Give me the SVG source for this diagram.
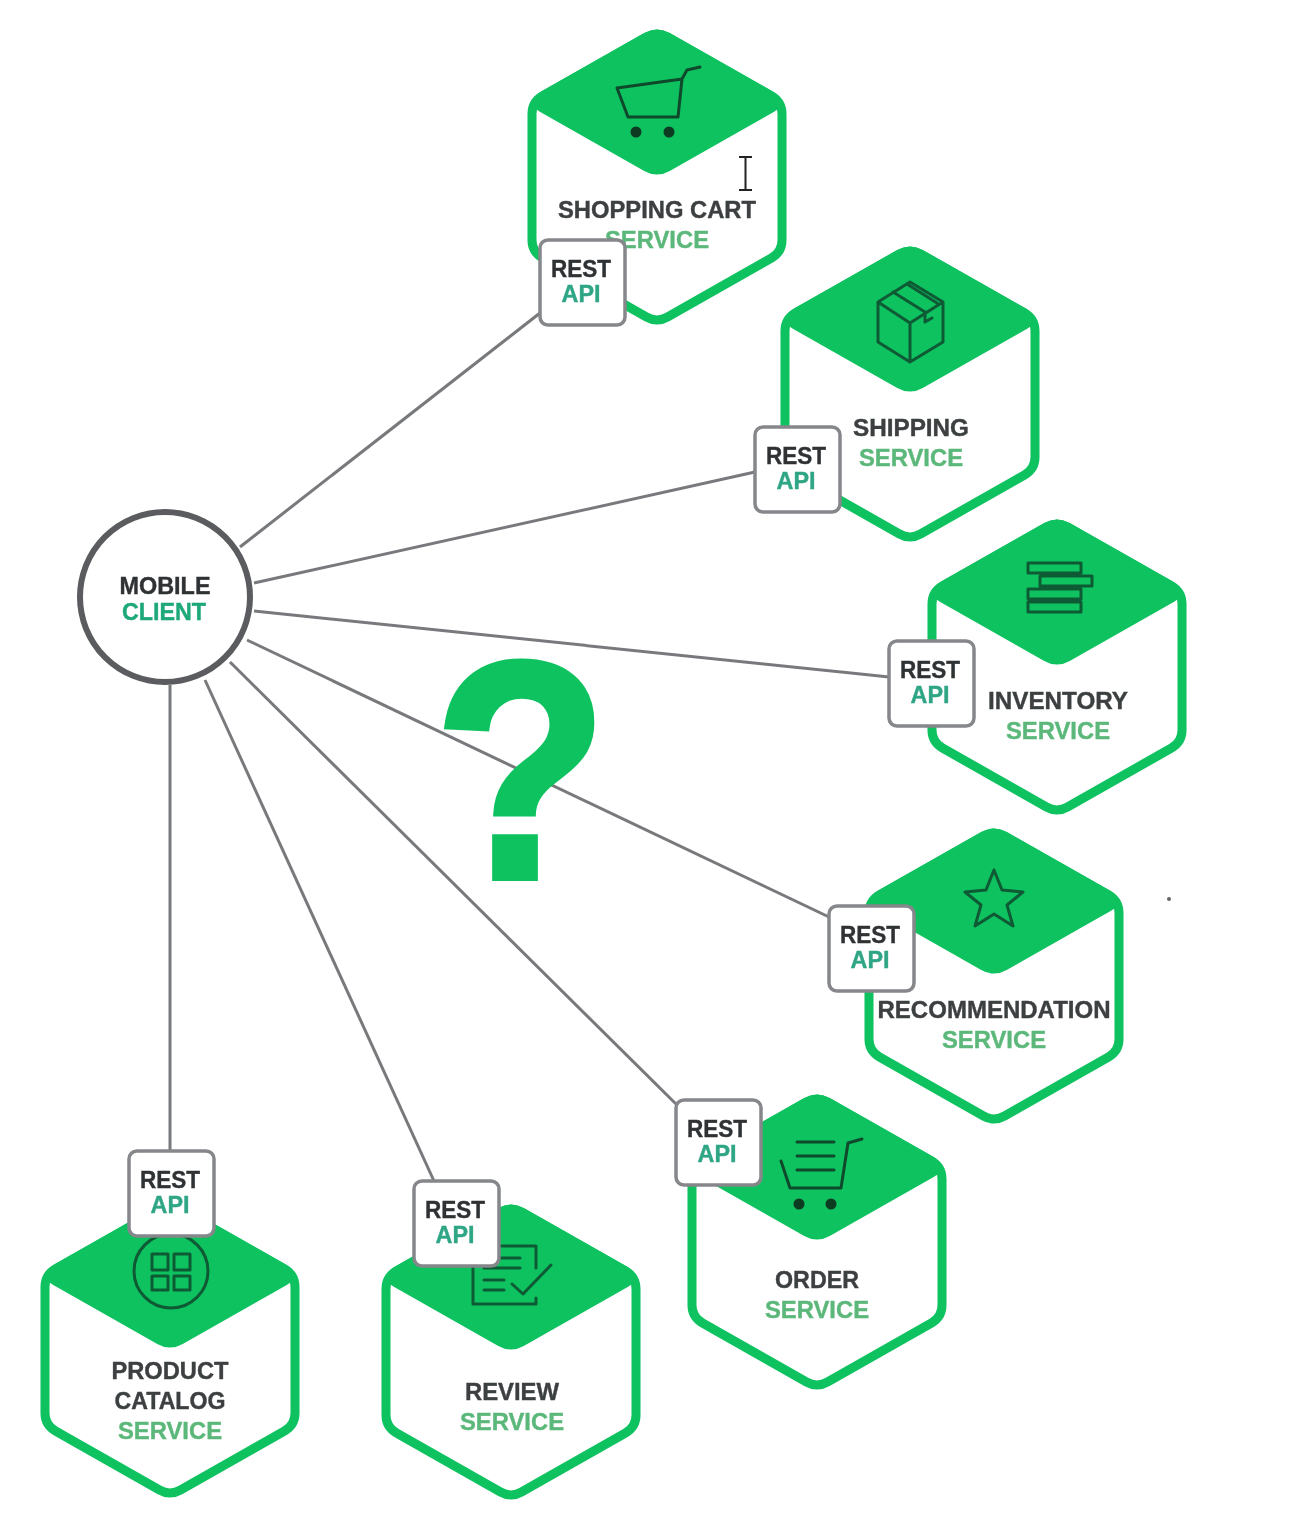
<svg xmlns="http://www.w3.org/2000/svg" width="1300" height="1516" viewBox="0 0 1300 1516">
<style>
text{font-family:"Liberation Sans",Arial,sans-serif;font-weight:700;text-anchor:middle}
.n{font-size:24px;fill:#3c3f41;stroke:#3c3f41;stroke-width:.4}
.s{font-size:24px;fill:#5cb87a;stroke:#5cb87a;stroke-width:.4}
.r{font-size:24px;fill:#2f3234;stroke:#2f3234;stroke-width:.4}
.a{font-size:24px;fill:#2fa585;stroke:#2fa585;stroke-width:.4}
.shell{fill:#fff;stroke:#0cc25f;stroke-width:9;stroke-linejoin:round}
.cap{fill:#0cc25f;stroke:#0cc25f;stroke-width:9;stroke-linejoin:round}
.api{fill:#fff;stroke:#85878a;stroke-width:3.5}
.ic{fill:none;stroke:#0b5a35;stroke-width:3;stroke-linejoin:round;stroke-linecap:round}
.wh{fill:#0a3a24}
.c{stroke:#77797b;stroke-width:3;fill:none}
.q{font-size:310px;fill:#0cc25f;stroke:#0cc25f;stroke-width:6;stroke-linejoin:miter}
</style>
<defs>
<filter id="soft" x="-5%" y="-5%" width="110%" height="110%"><feGaussianBlur stdDeviation="0.55"/></filter>
<g id="hex">
<path class="shell" d="M-10.500-140Q0-146 10.500-140L114.500-81Q125-75 125-63V63Q125 75 114.500 81L10.500 140Q0 146-10.500 140L-114.500 81Q-125 75-125 63V-63Q-125-75-114.500-81Z"/>
<path class="cap" d="M-10.500-140Q0-146 10.500-140L114.500-81Q125-75 114.500-69L10.500-10Q0-4-10.500-10L-114.500-69Q-125-75-114.500-81Z"/>
</g>
<g id="rest">
<rect class="api" width="85" height="85" rx="8"/>
<text class="r" x="41" y="37" textLength="60" lengthAdjust="spacingAndGlyphs">REST</text>
<text class="a" x="41" y="62" textLength="39" lengthAdjust="spacingAndGlyphs">API</text>
</g>
</defs>
<rect width="1300" height="1516" fill="#fff"/>
<g filter="url(#soft)">
<g id="connectors">
<path class="c" d="M240 547L540 313"/>
<path class="c" d="M254 583L755 472"/>
<path class="c" d="M254 611L889 677"/>
<path class="c" d="M247 640L829 917"/>
<path class="c" d="M230 662L676 1104"/>
<path class="c" d="M205 680L434 1181"/>
<path class="c" d="M170 685V1151"/>
</g>
<g id="question"><text class="q" x="521" y="878" textLength="174" lengthAdjust="spacingAndGlyphs">?</text></g>
<g id="mobile-client">
<circle cx="165" cy="597" r="85" fill="#fff" stroke="#5a5c5e" stroke-width="6"/>
<text class="r" x="165" y="594" textLength="91" lengthAdjust="spacingAndGlyphs">MOBILE</text>
<text class="a" x="164" y="620" textLength="84" lengthAdjust="spacingAndGlyphs" style="fill:#1fa878;stroke:#1fa878">CLIENT</text>
</g>
<g id="shopping-cart">
<use href="#hex" x="657" y="177"/>
<path class="ic" style="stroke:#0a4a2c" d="M617 88L682 79L678 117H628ZM682 79L687 70L700 67"/>
<circle class="wh" cx="636" cy="132" r="5.500"/><circle class="wh" cx="669" cy="132" r="5.500"/>
<text class="n" x="657" y="218" textLength="198" lengthAdjust="spacingAndGlyphs">SHOPPING CART</text>
<text class="s" x="657" y="248" textLength="104" lengthAdjust="spacingAndGlyphs">SERVICE</text>
<use href="#rest" x="540" y="240"/>
</g>
<g id="shipping">
<use href="#hex" x="910" y="394"/>
<path class="ic" d="M910 282L943 302V342L910 362L878 342V302ZM878 302L910 323L943 302M910 323V362M893 292L925 312M907 284L937 303M925 312V322L932 318"/>
<text class="n" x="911" y="436" textLength="116" lengthAdjust="spacingAndGlyphs">SHIPPING</text>
<text class="s" x="911" y="466" textLength="104" lengthAdjust="spacingAndGlyphs">SERVICE</text>
<use href="#rest" x="755" y="427"/>
</g>
<g id="inventory">
<use href="#hex" x="1057" y="667"/>
<path class="ic" d="M1028 563H1081V573H1028ZM1040 576H1092V586H1040ZM1028 589H1081V599H1028ZM1028 602H1081V612H1028Z"/>
<text class="n" x="1058" y="709" textLength="140" lengthAdjust="spacingAndGlyphs">INVENTORY</text>
<text class="s" x="1058" y="739" textLength="104" lengthAdjust="spacingAndGlyphs">SERVICE</text>
<use href="#rest" x="889" y="641"/>
</g>
<g id="recommendation">
<use href="#hex" x="994" y="976"/>
<path class="ic" d="M994 870L1002 890L1023 892L1007 905L1013 926L994 914L975 926L981 905L965 892L986 890Z"/>
<text class="n" x="994" y="1018" textLength="233" lengthAdjust="spacingAndGlyphs">RECOMMENDATION</text>
<text class="s" x="994" y="1048" textLength="104" lengthAdjust="spacingAndGlyphs">SERVICE</text>
<use href="#rest" x="829" y="906"/>
</g>
<g id="order">
<use href="#hex" x="817" y="1242"/>
<path class="ic" style="stroke:#0a4a2c" d="M781 1161L790 1188H841L848 1143L862 1139M797 1142H834M797 1156H834M797 1170H834"/>
<circle class="wh" cx="799" cy="1204" r="5.500"/><circle class="wh" cx="831" cy="1204" r="5.500"/>
<text class="n" x="817" y="1288" textLength="84" lengthAdjust="spacingAndGlyphs">ORDER</text>
<text class="s" x="817" y="1318" textLength="104" lengthAdjust="spacingAndGlyphs">SERVICE</text>
<use href="#rest" x="676" y="1100"/>
</g>
<g id="review">
<use href="#hex" x="511" y="1352"/>
<path class="ic" d="M500 1246H536V1268M473 1262V1304H536V1298M484 1258H520M484 1268H520M484 1280H504M484 1290H504M512 1284L523 1294L551 1265"/>
<text class="n" x="512" y="1400" textLength="94" lengthAdjust="spacingAndGlyphs">REVIEW</text>
<text class="s" x="512" y="1430" textLength="104" lengthAdjust="spacingAndGlyphs">SERVICE</text>
<use href="#rest" x="414" y="1181"/>
</g>
<g id="product-catalog">
<use href="#hex" x="170" y="1350"/>
<circle class="ic" cx="171" cy="1271" r="37"/>
<path class="ic" d="M152 1254H168V1270H152ZM174 1254H190V1270H174ZM152 1276H168V1290H152ZM174 1276H190V1290H174Z"/>
<text class="n" x="170" y="1379" textLength="117" lengthAdjust="spacingAndGlyphs">PRODUCT</text>
<text class="n" x="170" y="1409" textLength="111" lengthAdjust="spacingAndGlyphs">CATALOG</text>
<text class="s" x="170" y="1439" textLength="104" lengthAdjust="spacingAndGlyphs">SERVICE</text>
<use href="#rest" x="129" y="1151"/>
</g>
<path d="M739 157H752M745.500 157V190M739 190H752" fill="none" stroke="#222" stroke-width="2"/>
<circle cx="1169" cy="899" r="2" fill="#666"/>
</g>
</svg>
